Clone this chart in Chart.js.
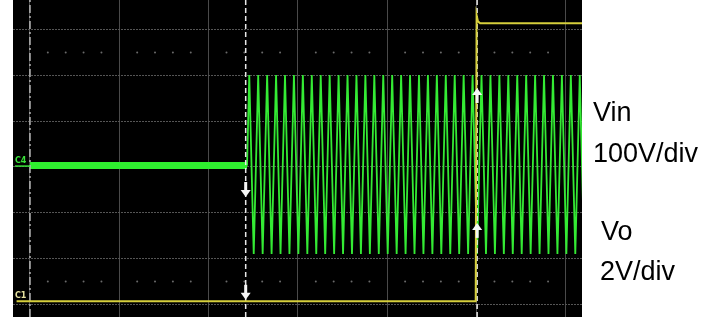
<!DOCTYPE html>
<html>
<head>
<meta charset="utf-8">
<style>
html, body { margin: 0; padding: 0; background: #fff; }
#wrap { position: relative; width: 721px; height: 317px; }
</style>
<script src="https://cdn.jsdelivr.net/npm/chart.js@4.4.1/dist/chart.umd.min.js"></script>
</head>
<body>
<div id="wrap"><canvas id="scope" width="721" height="317"></canvas></div>
<script>
// scope capture: x in time divisions, y in vertical divisions (0 = centre line)
const xDivs = [0, 1, 2, 3, 4, 5, 6];
const yDivs = [-3, -2, -1, 0, 1, 2, 3];
const minorX = [0.2, 0.4, 0.6, 0.8, 1.2, 1.4, 1.6, 1.8, 2.2, 2.4, 2.6, 2.8, 3.2, 3.4, 3.6, 3.8,
                4.2, 4.4, 4.6, 4.8, 5.2, 5.4, 5.6, 5.8];
const minorRows = [2.5, -2.5];

// C4 (Vin) before the burst: flat trace
const vinIdleX = [0, 2.43];
const vinIdleY = [0.03, 0.03];

// C4 (Vin) burst: peaks / troughs
const vinBurstX = [2.43, 2.455, 2.505, 2.555, 2.605, 2.655, 2.705, 2.755, 2.805, 2.855, 2.905, 2.955,
  3.005, 3.055, 3.105, 3.155, 3.205, 3.255, 3.305, 3.355, 3.405, 3.455, 3.505, 3.555, 3.605, 3.655,
  3.705, 3.755, 3.805, 3.855, 3.905, 3.955, 4.005, 4.055, 4.105, 4.155, 4.205, 4.255, 4.305, 4.355,
  4.405, 4.455, 4.505, 4.555, 4.605, 4.655, 4.705, 4.755, 4.805, 4.855, 4.905, 4.955, 5.005, 5.055,
  5.105, 5.155, 5.205, 5.255, 5.305, 5.355, 5.405, 5.455, 5.505, 5.555, 5.605, 5.655, 5.705, 5.755,
  5.805, 5.855, 5.905, 5.955, 6.005, 6.055, 6.105, 6.155, 6.205];
const vinBurstY = [0.03, 2.01, -1.9, 2.01, -1.9, 2.01, -1.9, 2.01, -1.9, 2.01, -1.9, 2.01,
  -1.9, 2.01, -1.9, 2.01, -1.9, 2.01, -1.9, 2.01, -1.9, 2.01, -1.9, 2.01, -1.9, 2.01,
  -1.9, 2.01, -1.9, 2.01, -1.9, 2.01, -1.9, 2.01, -1.9, 2.01, -1.9, 2.01, -1.9, 2.01,
  -1.9, 2.01, -1.9, 2.01, -1.9, 2.01, -1.9, 2.01, -1.9, 2.01, -1.9, 2.01, -1.9, 2.01,
  -1.9, 2.01, -1.9, 2.01, -1.9, 2.01, -1.9, 2.01, -1.9, 2.01, -1.9, 2.01, -1.9, 2.01,
  -1.9, 2.01, -1.9, 2.01, -1.9, 2.01, -1.9, 2.01, -1.9];

// C1 (Vo): low, then steps up
const voX = [-0.15, 4.99, 5.0, 5.015, 5.04, 6.2];
const voY = [-2.93, -2.93, 3.32, 3.18, 3.14, 3.14];

// cursors
const cursorX = [0, 2.415, 5.006];
const cursorColors = ['#b8b8b8', '#e8e8e8', '#e8e8e8'];

// cursor arrows: x, tip y, direction
const arrowX = [2.415, 2.415, 5.006, 5.006];
const arrowY = [-0.655, -2.9, 1.725, -1.22];
const arrowDir = ['down', 'down', 'up', 'up'];

// channel tags
const tagText = ['C4', 'C1'];
const tagY = [0.09, -2.86];
const tagColors = ['#3ae23a', '#e6e2a0'];
const markerY = [0.02, -2.93];

// side notes
const noteText = ['Vin', '100V/div', 'Vo', '2V/div'];
const noteX = [593, 593, 601, 600];
const noteY = [121, 162, 240, 280];

const Y_MIN = -3.275, Y_MAX = 3.646;

function pts(xs, ys) { return xs.map((x, i) => ({ x: x, y: ys[i] })); }

const datasets = [];
datasets.push({
    data: pts(voX, voY), showLine: true, borderColor: '#d6cf3c', borderWidth: 2,
    pointRadius: 0, tension: 0
});
cursorX.forEach((cx, i) => {
    datasets.push({
        data: [{ x: cx, y: Y_MIN }, { x: cx, y: Y_MAX }], showLine: true,
        borderColor: cursorColors[i], borderWidth: 1.5, borderDash: i === 0 ? [8, 3, 2, 3] : [5, 3],
        pointRadius: 0
    });
});
datasets.push({
    data: pts(vinBurstX, vinBurstY), showLine: true, borderColor: '#34ea34', borderWidth: 1.8,
    pointRadius: 0, tension: 0
});
datasets.push({
    data: pts(vinIdleX, vinIdleY), showLine: true, borderColor: '#2ff02f', borderWidth: 7,
    pointRadius: 0
});
minorRows.forEach(r => {
    datasets.push({
        data: minorX.map(x => ({ x: x, y: r })), showLine: false,
        pointRadius: 1, pointBorderWidth: 0, pointBackgroundColor: '#6a6a6a'
    });
});

const scopePlugin = {
    id: 'scopePlugin',
    beforeDraw(chart) {
        const { ctx, chartArea: a } = chart;
        ctx.save();
        ctx.fillStyle = '#000';
        ctx.fillRect(a.left, a.top, a.right - a.left, a.bottom - a.top);
        ctx.restore();
    },
    afterDatasetsDraw(chart) {
        const { ctx, scales: { x, y } } = chart;
        ctx.save();
        // arrows
        ctx.fillStyle = '#f6f6f6';
        arrowX.forEach((ax, i) => {
            const px = x.getPixelForValue(ax);
            const py = y.getPixelForValue(arrowY[i]);
            const s = arrowDir[i] === 'down' ? -1 : 1;
            ctx.beginPath();
            ctx.moveTo(px, py);
            ctx.lineTo(px - 5, py + s * 7);
            ctx.lineTo(px + 5, py + s * 7);
            ctx.closePath();
            ctx.fill();
            ctx.fillRect(px - 1.5, s > 0 ? py + 6 : py - 15, 3, 9);
        });
        // channel tags
        ctx.font = 'bold 8px "DejaVu Sans", sans-serif';
        ctx.textBaseline = 'alphabetic';
        tagText.forEach((t, i) => {
            ctx.fillStyle = tagColors[i];
            ctx.fillText(t, x.left + 2, y.getPixelForValue(tagY[i]));
        });
        ctx.lineWidth = 1.5;
        ctx.strokeStyle = '#3ae23a';
        ctx.beginPath();
        ctx.moveTo(x.left + 2, y.getPixelForValue(markerY[0]));
        ctx.lineTo(x.getPixelForValue(0), y.getPixelForValue(markerY[0]));
        ctx.stroke();
        ctx.restore();
    },
    afterDraw(chart) {
        const { ctx } = chart;
        ctx.save();
        ctx.fillStyle = '#000';
        ctx.font = '27px "Liberation Sans", Arial, sans-serif';
        ctx.textBaseline = 'alphabetic';
        noteText.forEach((t, i) => ctx.fillText(t, noteX[i], noteY[i]));
        ctx.restore();
    }
};

new Chart(document.getElementById('scope'), {
    type: 'scatter',
    data: { datasets: datasets },
    options: {
        responsive: false,
        animation: false,
        layout: { autoPadding: false, padding: { left: 13, right: 139, top: 0, bottom: 0 } },
        plugins: { legend: { display: false }, tooltip: { enabled: false } },
        scales: {
            x: {
                type: 'linear', min: -0.19, max: 6.18,
                afterBuildTicks: s => { s.ticks = xDivs.map(v => ({ value: v })); },
                ticks: { display: false },
                grid: { color: '#4a4a4a', lineWidth: 1, drawTicks: false },
                border: { display: false }
            },
            y: {
                type: 'linear', min: Y_MIN, max: Y_MAX,
                afterBuildTicks: s => { s.ticks = yDivs.map(v => ({ value: v })); },
                ticks: { display: false },
                grid: { color: '#555', lineWidth: 1, drawTicks: false },
                border: { display: false, dash: [2, 1] }
            }
        }
    },
    plugins: [scopePlugin]
});
</script>
</body>
</html>
